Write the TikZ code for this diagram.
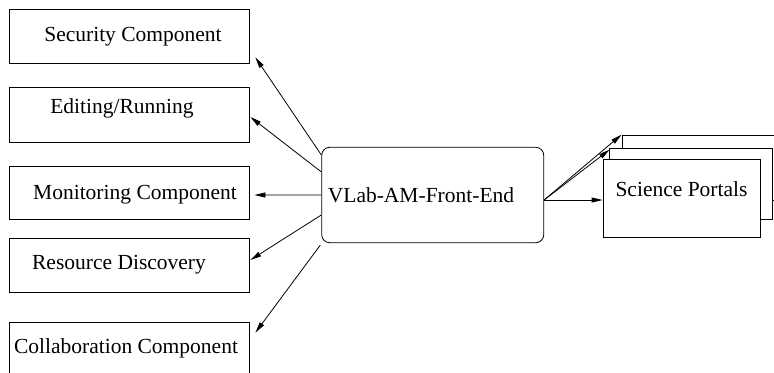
\documentclass[tikz,border=0pt]{standalone}
\usepackage{fontspec}
\setmainfont{Liberation Serif}
\usetikzlibrary{arrows.meta,calc}

\begin{document}
\begin{tikzpicture}[x=1bp,y=-1bp,
  line width=0.8bp,
  box/.style={draw,rectangle,inner sep=0pt,fill=white},
  lbl/.style={anchor=base,inner sep=0pt,font=\fontsize{21.5bp}{24bp}\selectfont},
  arr/.style={-{Triangle[length=11bp,width=5bp]}}]
\useasboundingbox (0,0) rectangle (774,372);

% component boxes on the left
\node[box,minimum width=240bp,minimum height=54bp] (sec) at (129,36) {};
\node[box,minimum width=240bp,minimum height=55bp] (edi) at (129,114.5) {};
\node[box,minimum width=240bp,minimum height=53bp] (mon) at (129,192.5) {};
\node[box,minimum width=240bp,minimum height=54bp] (res) at (129,265) {};
\node[box,minimum width=240bp,minimum height=56bp] (col) at (129,350) {};

\node[lbl] (secT) at (133,41) {Security Component};
\node[lbl] (ediT) at (122,113) {Editing/Running};
\node[lbl] (monT) at (135,199) {Monitoring Component};
\node[lbl] (resT) at (119,269) {Resource Discovery};
\node[lbl] (colT) at (126,353) {Collaboration Component};

% front end
\node[draw,rectangle,rounded corners=8bp,inner sep=0pt,
      minimum width=222bp,minimum height=95.4bp] (fe) at (432.7,195) {};
\node[lbl] (feT) at (421,202.7) {VLab-AM-Front-End};

% stacked science portal boxes
\node[box,minimum width=170bp,minimum height=65bp] (sp3) at (707,167.5) {};
\node[box,minimum width=163bp,minimum height=71bp] (sp2) at (690.5,183.5) {};
\node[box,minimum width=157bp,minimum height=78bp] (sp1) at (681.5,198) {};
\node[lbl] (spT) at (681.5,196) {Science Portals};

% connectors to the components
\draw[arr] ($(fe.north west)+(0,8)$) -- ($(sec.south east)+(6,-6)$);
\draw[arr] ($(fe.north west)+(0,25)$) -- ($(edi.east)+(1,2.5)$);
\draw[arr] (fe.west) -- ($(mon.east)+(5,2.5)$);
\draw[arr] ($(fe.west)+(0,20)$) -- ($(res.east)+(1,-5)$);
\draw[arr] ($(fe.south west)+(-1,2)$) -- ($(col.north east)+(6,11)$);

% connectors to the portals
\draw[arr] ($(fe.east)+(0,5)$) -- ($(sp1.west)+(0,2)$);
\draw[arr] ($(fe.east)+(0,5)$) -- ($(sp2.north west)+(1,2)$);
\draw[arr] ($(fe.east)+(0,5)$) -- (sp3.north west);
\end{tikzpicture}
\end{document}
